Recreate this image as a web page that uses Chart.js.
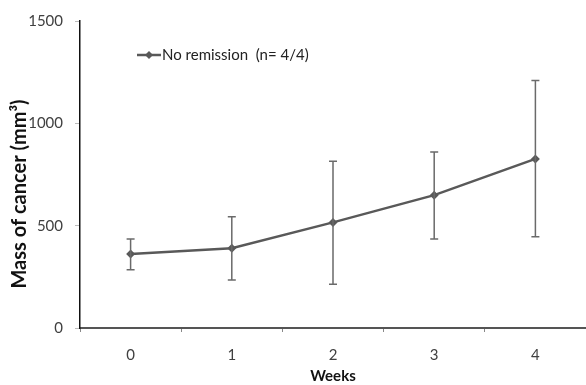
<!DOCTYPE html>
<html>
<head>
<meta charset="utf-8">
<script src="https://cdn.jsdelivr.net/npm/chart.js@4.4.0/dist/chart.umd.min.js"></script>
<style>
  html, body { margin: 0; padding: 0; background: #fff; }
  #wrap { width: 586px; height: 385px; position: relative; }
</style>
</head>
<body>
<div id="wrap"><canvas id="massChart"></canvas></div>
<script>
// weeks after start, mean mass and error bar ends
const weeks = ['0', '1', '2', '3', '4'];
const meanMass = [362, 390, 516, 649, 826];
const upperMass = [435, 543, 815, 860, 1209];
const lowerMass = [284, 234, 214, 435, 446];
const yTicks = [0, 500, 1000, 1500];
const seriesLabel = 'No remission  (n= 4/4)';
const yTitle = 'Mass of cancer (mm³)';

const grey = '#595959';
const fontName = 'Lato, "Noto Sans", sans-serif';

// draws the vertical error bars with small caps
const errorBars = {
    id: 'errorBars',
    afterDatasetsDraw(chart) {
        const ctx = chart.ctx;
        const x = chart.scales.x, y = chart.scales.y;
        ctx.save();
        ctx.strokeStyle = '#6a6a6a';
        ctx.lineWidth = 1.5;
        weeks.forEach((w, i) => {
            const px = x.getPixelForValue(i);
            const top = y.getPixelForValue(upperMass[i]);
            const bot = y.getPixelForValue(lowerMass[i]);
            ctx.beginPath();
            ctx.moveTo(px, top); ctx.lineTo(px, bot);
            ctx.moveTo(px - 4, top); ctx.lineTo(px + 4, top);
            ctx.moveTo(px - 4, bot); ctx.lineTo(px + 4, bot);
            ctx.stroke();
        });
        ctx.restore();
    }
};

// legend inside the plot (upper left) and the y title, which sits a bit low
const extras = {
    id: 'extras',
    afterDraw(chart) {
        const ctx = chart.ctx;
        const lx = 137, ly = 55;
        ctx.save();
        ctx.strokeStyle = grey; ctx.lineWidth = 2.5;
        ctx.beginPath(); ctx.moveTo(lx, ly); ctx.lineTo(lx + 24, ly); ctx.stroke();
        ctx.fillStyle = grey;
        ctx.beginPath();
        ctx.moveTo(lx + 12, ly - 4); ctx.lineTo(lx + 16, ly);
        ctx.lineTo(lx + 12, ly + 4); ctx.lineTo(lx + 8, ly);
        ctx.closePath(); ctx.fill();
        ctx.fillStyle = '#222';
        ctx.font = '15px ' + fontName;
        ctx.textBaseline = 'middle';
        ctx.fillText(chart.data.datasets[0].label, lx + 25, ly);

        ctx.translate(20, 194);
        ctx.rotate(-Math.PI / 2);
        ctx.fillStyle = '#111';
        ctx.font = 'bold 20px ' + fontName;
        ctx.textAlign = 'center';
        ctx.fillText(yTitle, 0, 0);
        ctx.restore();
    }
};

new Chart(document.getElementById('massChart'), {
    type: 'line',
    data: {
        labels: weeks,
        datasets: [{
            label: seriesLabel,
            data: meanMass,
            borderColor: grey,
            backgroundColor: grey,
            borderWidth: 2.5,
            pointStyle: 'rectRot',
            pointRadius: 4.5,
            pointBorderWidth: 0,
            tension: 0
        }]
    },
    options: {
        responsive: true,
        maintainAspectRatio: false,
        animation: false,
        layout: { autoPadding: false, padding: { top: 20, right: 0, left: 0, bottom: 0 } },
        plugins: { legend: { display: false }, tooltip: { enabled: false } },
        scales: {
            x: {
                offset: true,
                grid: { offset: true, drawOnChartArea: false, drawTicks: true, tickLength: 4, color: '#888' },
                border: { color: '#555', width: 2 },
                ticks: { color: '#404040', font: { family: fontName, size: 15 }, padding: 14 },
                title: { display: true, text: 'Weeks', color: '#111', font: { family: fontName, size: 15, weight: 'bold' }, padding: { top: 0, bottom: 0 } },
                afterFit(scale) { scale.height = 57; }
            },
            y: {
                min: 0, max: 1500,
                afterBuildTicks(scale) { scale.ticks = yTicks.map(v => ({ value: v })); },
                grid: { drawOnChartArea: false, tickLength: 5, color: '#bbb' },
                border: { color: '#111', width: 1.5 },
                ticks: { color: '#404040', font: { family: fontName, size: 15 }, padding: 12, callback: v => String(v) },
                afterFit(scale) { scale.width = 80; }
            }
        }
    },
    plugins: [errorBars, extras]
});
</script>
</body>
</html>
